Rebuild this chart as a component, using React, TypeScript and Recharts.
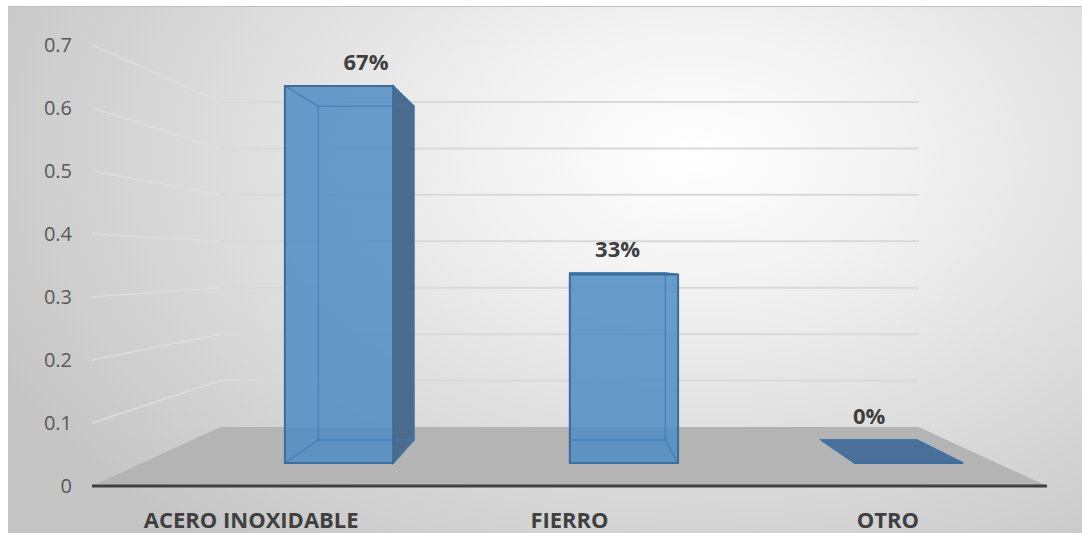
import { BarChart, Bar, XAxis, YAxis, CartesianGrid } from "recharts"

// porcentaje por material
const categories = ["ACERO INOXIDABLE", "FIERRO", "OTRO"]
const shares = [0.6667, 0.3333, 0]
const yTicks = [0, 0.1, 0.2, 0.3, 0.4, 0.5, 0.6, 0.7]

const data = categories.map((name, i) => ({ name, share: shares[i] }))

const W = 1082
const H = 533
const PLOT = { left: 92, right: 1047, top: 45, bottom: 486 }
const CX = (PLOT.left + PLOT.right) / 2
// perspectiva simple: al fondo el piso sube y el plano se encoge
const FLOOR_RISE = 59
const X_SHRINK = 0.269
const Y_SHRINK = 0.263
const BAR_FRONT = 0.39
const BAR_BACK = 0.78

const FONT = "'Open Sans', 'DejaVu Sans', sans-serif"

type Pt = { x: number; y: number }

function project(X: number, Y: number, t: number): Pt {
  return {
    x: CX + (X - CX) * (1 - t * X_SHRINK),
    y: PLOT.bottom - t * FLOOR_RISE - (PLOT.bottom - Y) * (1 - t * Y_SHRINK),
  }
}

const pts = (list: Pt[]) => list.map((p) => `${p.x},${p.y}`).join(" ")

/** línea de cuadrícula: pared izquierda + pared del fondo, o el piso para el 0 */
function GridLine(props: any) {
  const { x1, x2, y1 } = props
  const backL = project(x1, y1, 1)
  const backR = project(x2, y1, 1)
  if (Math.abs(y1 - PLOT.bottom) < 0.5) {
    return (
      <polygon
        points={pts([{ x: x1, y: y1 }, backL, backR, { x: x2, y: y1 }])}
        fill="#b4b4b4"
      />
    )
  }
  return (
    <g>
      <line x1={x1} y1={y1} x2={backL.x} y2={backL.y} stroke="#dddddd" strokeWidth={1.6} />
      <line x1={backL.x} y1={backL.y} x2={backR.x} y2={backR.y} stroke="#d9d9d9" strokeWidth={2} />
    </g>
  )
}

function Bar3D(props: any) {
  const { x, y, width, height, value } = props
  const X0 = x + width / 2
  const X1 = X0 + width
  const yTop = y
  const yBot = y + height
  const face = (t: number) => [
    project(X0, yTop, t),
    project(X1, yTop, t),
    project(X1, yBot, t),
    project(X0, yBot, t),
  ]
  const F = face(BAR_FRONT)
  const B = face(BAR_BACK)

  const showRight = B[1].x > F[1].x
  const showLeft = B[0].x < F[0].x
  const showTop = B[0].y < F[0].y

  const outline = "#3d6d9c"
  const inner = "#3f78b0"
  const labelY = Math.min(F[0].y, B[0].y) - 25

  return (
    <g>
      {showRight && <polygon points={pts([F[1], B[1], B[2], F[2]])} fill="#4d6c8b" stroke={outline} strokeWidth={1.5} />}
      {showLeft && <polygon points={pts([F[0], B[0], B[3], F[3]])} fill="#4d6c8b" stroke={outline} strokeWidth={1.5} />}
      {showTop && <polygon points={pts([F[0], F[1], B[1], B[0]])} fill="#4a7099" stroke={outline} strokeWidth={1.5} />}
      <polygon points={pts(F)} fill="#4e8cc3" fillOpacity={0.85} />
      <polygon points={pts(B)} fill="none" stroke={inner} strokeOpacity={0.75} strokeWidth={1.3} />
      {F.map((p, i) => (
        <line key={i} x1={p.x} y1={p.y} x2={B[i].x} y2={B[i].y} stroke={inner} strokeOpacity={0.75} strokeWidth={1.3} />
      ))}
      <polygon points={pts(F)} fill="none" stroke={outline} strokeWidth={2} />
      <text
        x={(B[0].x + B[1].x) / 2}
        y={labelY}
        textAnchor="middle"
        dominantBaseline="central"
        fontFamily={FONT}
        fontWeight={700}
        fontSize={22}
        fill="#404040"
      >
        {`${Math.round(value * 100)}%`}
      </text>
    </g>
  )
}

export default function App() {
  return (
    <div style={{ position: "absolute", left: 0, top: 0, width: W, height: H, background: "#ffffff", overflow: "hidden" }}>
      <div
        style={{
          position: "absolute",
          left: 8,
          top: 6,
          width: W - 8,
          height: H - 6,
          borderTop: "1px solid #bfbfbf",
          background:
            "radial-gradient(ellipse 72% 95% at 64% 28%, #ffffff 0%, #f3f3f3 25%, #dcdcdc 62%, #c5c5c5 100%)",
        }}
      />
      <div style={{ position: "absolute", left: 0, top: 0 }}>
        <BarChart
          width={W}
          height={H}
          data={data}
          margin={{ top: PLOT.top, right: W - PLOT.right, bottom: 0, left: 8 }}
          barSize={121}
        >
          <CartesianGrid vertical={false} horizontal={(p: any) => <GridLine key={p.key ?? p.index} {...p} />} />
          <XAxis
            dataKey="name"
            height={H - PLOT.bottom}
            axisLine={{ stroke: "#404040", strokeWidth: 3 }}
            tickLine={false}
            tickMargin={20}
            tick={{ fontFamily: FONT, fontWeight: 700, fontSize: 22, fill: "#404040" }}
          />
          <YAxis
            width={PLOT.left - 8}
            domain={[0, 0.7]}
            ticks={yTicks}
            axisLine={false}
            tickLine={false}
            tickMargin={14}
            tick={{ fontFamily: FONT, fontSize: 20, fill: "#595959" }}
          />
          <Bar dataKey="share" shape={<Bar3D />} isAnimationActive={false} />
        </BarChart>
      </div>
    </div>
  )
}
